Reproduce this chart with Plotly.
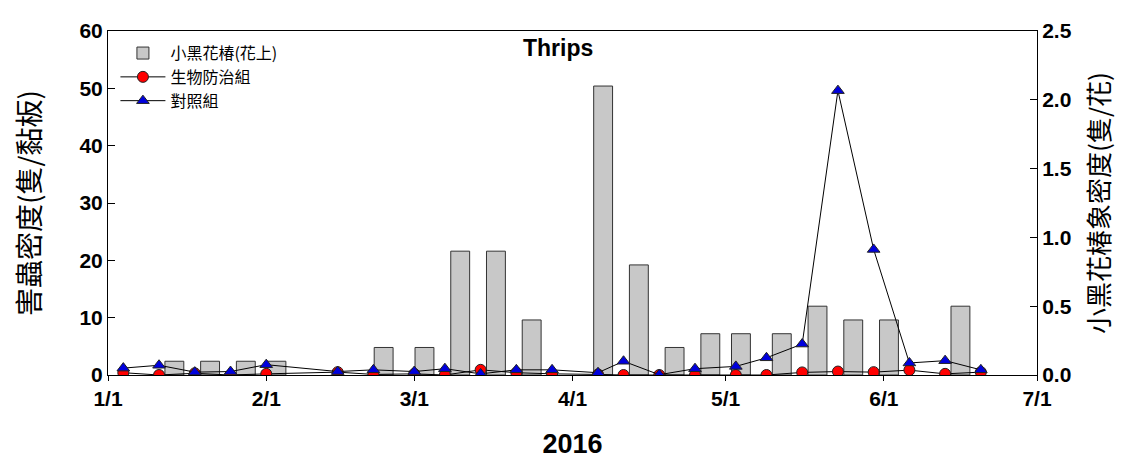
import plotly.graph_objects as go

# ---- data ----
trap_dates = ["2016-01-04", "2016-01-11", "2016-01-18", "2016-01-25", "2016-02-01",
              "2016-02-15", "2016-02-22", "2016-03-01", "2016-03-07", "2016-03-14",
              "2016-03-21", "2016-03-28", "2016-04-06", "2016-04-11", "2016-04-18",
              "2016-04-25", "2016-05-03", "2016-05-09", "2016-05-16", "2016-05-23",
              "2016-05-30", "2016-06-06", "2016-06-13", "2016-06-20"]
bio_control = [0.4, 0.0, 0.3, 0.0, 0.2, 0.5, 0.1, 0.2, 0.0, 0.9, 0.4, 0.2,
               0.1, 0.0, 0.0, 0.0, 0.0, 0.0, 0.45, 0.6, 0.5, 0.85, 0.2, 0.5]
check_group = [1.2, 1.7, 0.5, 0.6, 1.8, 0.6, 0.9, 0.6, 1.1, 0.2, 0.9, 0.9,
               0.4, 2.4, 0.05, 1.1, 1.5, 3.0, 5.4, 49.6, 21.9, 2.1, 2.5, 0.9]

bug_dates = ["2016-01-14", "2016-01-21", "2016-01-28", "2016-02-03", "2016-02-24",
             "2016-03-03", "2016-03-10", "2016-03-17", "2016-03-24", "2016-04-07",
             "2016-04-14", "2016-04-21", "2016-04-28", "2016-05-04", "2016-05-12",
             "2016-05-19", "2016-05-26", "2016-06-02", "2016-06-16"]
bug_density = [0.1, 0.1, 0.1, 0.1, 0.2, 0.2, 0.9, 0.9, 0.4, 2.1, 0.8, 0.2,
               0.3, 0.3, 0.3, 0.5, 0.4, 0.4, 0.5]

x_tickvals = ["2016-01-01", "2016-02-01", "2016-03-01", "2016-04-01",
              "2016-05-01", "2016-06-01", "2016-07-01"]
x_ticktext = ["1/1", "2/1", "3/1", "4/1", "5/1", "6/1", "7/1"]

names = ["小黑花椿(花上)", "生物防治組", "對照組"]

BAR_WIDTH_MS = 3.7 * 86400000

ARIAL = "Liberation Sans, Arial"
TICKFONT = dict(family=ARIAL, size=21, color="black", weight="bold")
CJK = "Noto Sans CJK TC"

fig = go.Figure()
fig.add_trace(go.Bar(
    x=bug_dates, y=bug_density, width=BAR_WIDTH_MS, name=names[0],
    marker=dict(color="#c8c8c8", line=dict(color="#333333", width=1)),
    yaxis="y",
))
fig.add_trace(go.Scatter(
    x=trap_dates, y=bio_control, name=names[1], mode="lines+markers",
    line=dict(color="black", width=1),
    marker=dict(symbol="circle", size=11, color="#ff0000", line=dict(color="#222222", width=1)),
    yaxis="y2",
))
fig.add_trace(go.Scatter(
    x=trap_dates, y=check_group, name=names[2], mode="lines+markers",
    line=dict(color="black", width=1),
    marker=dict(symbol="triangle-up", size=11, color="#0000dd", line=dict(color="#222222", width=1)),
    yaxis="y2",
))

fig.update_layout(
    width=1123, height=461,
    margin=dict(l=100, r=94, t=23, b=94),
    paper_bgcolor="white", plot_bgcolor="white",
    showlegend=True,
    barmode="overlay",
    legend=dict(
        x=0.008, y=0.985, xanchor="left", yanchor="top",
        font=dict(family=CJK, size=16, color="black"),
        bgcolor="rgba(0,0,0,0)", tracegroupgap=0, itemwidth=45,
    ),
    xaxis=dict(
        type="date", range=["2016-01-01", "2016-07-01"], automargin=False,
        tickvals=x_tickvals, ticktext=x_ticktext,
        ticks="outside", ticklen=5, tickcolor="black",
        showline=True, linecolor="black", linewidth=1, mirror=True,
        showgrid=False, zeroline=False,
        tickfont=TICKFONT,
        title=dict(text="2016", font=dict(family=ARIAL, size=27,
                                          color="black", weight="bold"), standoff=24),
    ),
    yaxis=dict(
        side="right", range=[0, 2.5], dtick=0.5, tickformat=".1f", automargin=False,
        ticks="inside", ticklen=7, tickcolor="black",
        showline=True, linecolor="black", linewidth=1,
        showgrid=False, zeroline=False,
        tickfont=TICKFONT,
        title=dict(text="小黑花椿象密度(隻/花)", font=dict(family=CJK, size=26, color="black"),
                   standoff=20),
    ),
    yaxis2=dict(
        side="left", overlaying="y", range=[0, 60], dtick=10, automargin=False,
        ticks="inside", ticklen=7, tickcolor="black",
        showline=True, linecolor="black", linewidth=1,
        showgrid=False, zeroline=False,
        tickfont=TICKFONT,
        title=dict(text="害蟲密度(隻/黏板)", font=dict(family=CJK, size=28, color="black"),
                   standoff=34),
    ),
    annotations=[dict(
        text="Thrips", xref="paper", yref="paper", x=0.484, y=0.95,
        xanchor="center", yanchor="middle", showarrow=False,
        font=dict(family=ARIAL, size=23, color="black", weight="bold"),
    )],
)

fig.write_html("out.html")
